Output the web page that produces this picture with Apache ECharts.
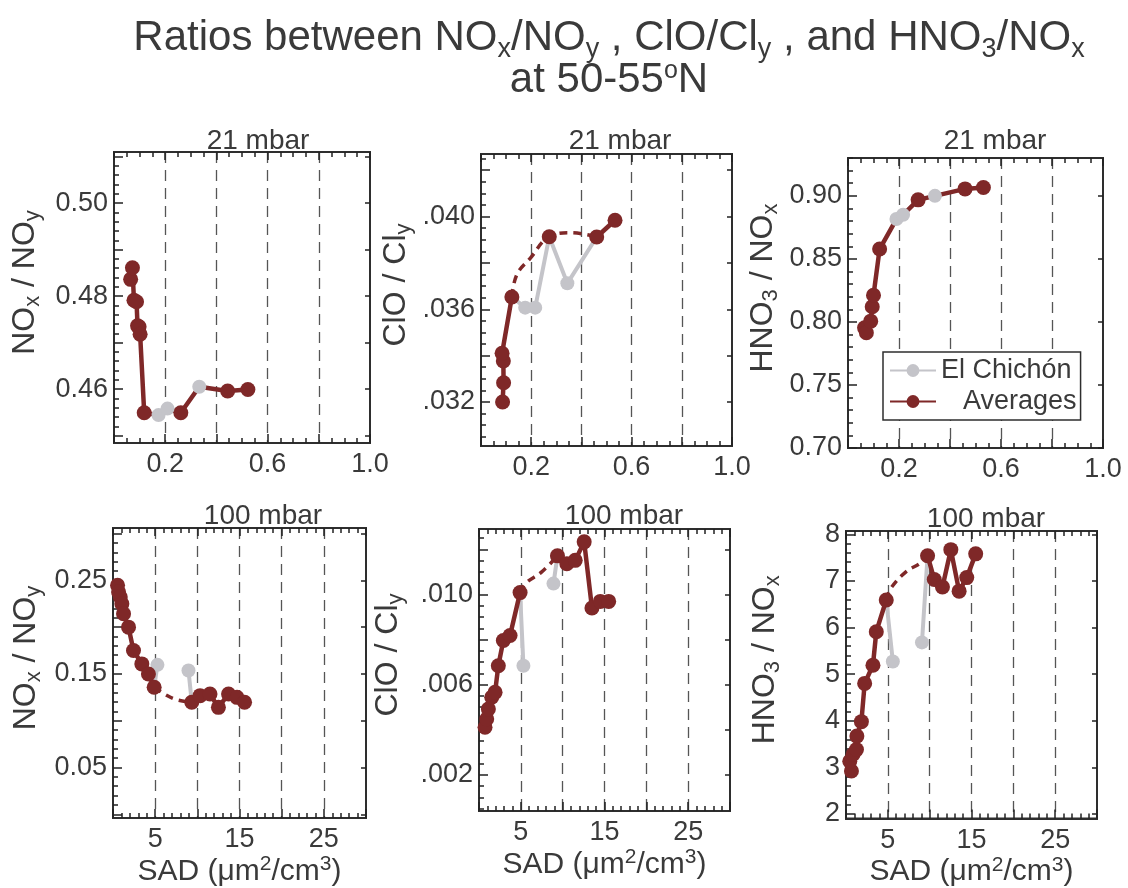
<!DOCTYPE html>
<html>
<head>
<meta charset="utf-8">
<title>Ratios between NOx/NOy, ClO/Cly and HNO3/NOx</title>
<script src="https://cdn.jsdelivr.net/npm/echarts@6/dist/echarts.min.js"></script>
<style>
  html, body { margin: 0; padding: 0; background: #fff; }
  #chart { width: 1128px; height: 888px; }
</style>
</head>
<body>
<div id="chart"></div>
<script>
// values (SAD on x, ratio on y)
// 21 mbar - NOx/NOy
const noxy21AvgX = [0.065, 0.072, 0.078, 0.088, 0.092, 0.098, 0.102, 0.118, 0.261, 0.444, 0.523];
const noxy21AvgY = [0.4836, 0.4861, 0.4791, 0.4788, 0.4736, 0.4734, 0.4718, 0.4549, 0.4549, 0.4596, 0.4599];
const noxy21ChiX = [0.174, 0.209, null, 0.333];
const noxy21ChiY = [0.4544, 0.4558, null, 0.4605];

// 21 mbar - ClO/Cly
const clo21AvgX = [0.086, 0.090, 0.089, 0.084, 0.123, 0.272, 0.461, 0.534];
const clo21AvgY = [0.0320, 0.03283, 0.03377, 0.0341, 0.03653, 0.03913, 0.03912, 0.03984];
const clo21GapX = [0.123, 0.143, 0.196, 0.272, 0.36, 0.461];
const clo21GapY = [0.03653, 0.0375, 0.0382, 0.03913, 0.0393, 0.03912];
const clo21ChiX = [0.123, 0.176, 0.216, 0.272, 0.344, 0.461];
const clo21ChiY = [0.03653, 0.03607, 0.03607, 0.03913, 0.03712, 0.03912];

// 21 mbar - HNO3/NOx
const hno21AvgX = [0.065, 0.072, 0.089, 0.095, 0.100, 0.124, 0.275, 0.459, 0.531];
const hno21AvgY = [0.7953, 0.7914, 0.8006, 0.8120, 0.8212, 0.8578, 0.8968, 0.9055, 0.9066];
const hno21ChiX = [0.190, 0.216, null, 0.341];
const hno21ChiY = [0.8816, 0.8850, null, 0.900];

// 100 mbar - NOx/NOy
const noxy100AvgX = [0.54, 0.66, 0.86, 1.05, 1.25, 1.84, 2.43, 3.42, 4.2, 4.88, 9.34, 10.33, 11.5, 12.5, 13.7, 14.7, 15.6];
const noxy100AvgY = [0.2447, 0.2376, 0.2322, 0.225, 0.2143, 0.200, 0.175, 0.1607, 0.150, 0.1357, 0.1197, 0.1268, 0.1286, 0.1143, 0.1286, 0.125, 0.1197];
const noxy100GapX = [4.88, 6.2, 7.5, 9.34];
const noxy100GapY = [0.1357, 0.128, 0.1225, 0.1197];
const noxy100ChiX = [4.88, 5.27, null, 8.95, 9.34];
const noxy100ChiY = [0.1357, 0.1597, null, 0.1536, 0.1197];

// 100 mbar - ClO/Cly
const clo100AvgX = [0.72, 0.92, 1.12, 1.52, 1.92, 2.31, 2.91, 3.71, 4.91, 9.38, 10.5, 11.5, 12.57, 13.5, 14.5, 15.5];
const clo100AvgY = [0.00411, 0.00448, 0.00492, 0.00544, 0.00566, 0.00684, 0.00796, 0.00818, 0.01008, 0.01171, 0.01136, 0.01151, 0.01233, 0.0094, 0.00969, 0.00969];
const clo100GapX = [4.91, 5.6, 7.5, 9.38];
const clo100GapY = [0.01008, 0.0105, 0.0110, 0.01171];
const clo100ChiX = [4.91, 5.31, null, 8.9, 9.38];
const clo100ChiY = [0.01008, 0.00684, null, 0.01048, 0.01171];

// 100 mbar - HNO3/NOx
const hno100AvgX = [0.65, 0.45, 0.85, 1.25, 1.3, 1.84, 2.23, 3.22, 3.62, 4.81, 9.75, 10.55, 11.53, 12.53, 13.52, 14.43, 15.5];
const hno100AvgY = [2.92, 3.13, 3.28, 3.38, 3.67, 3.98, 4.80, 5.19, 5.91, 6.59, 7.54, 7.03, 6.87, 7.67, 6.78, 7.07, 7.58];
const hno100GapX = [4.81, 5.4, 7.2, 8.9, 9.75];
const hno100GapY = [6.59, 6.85, 7.2, 7.38, 7.54];
const hno100ChiX = [4.81, 5.6, null, 9.08, 9.75];
const hno100ChiY = [6.59, 5.27, null, 5.68, 7.54];

// tick labels
const xLabels21 = [0.2, 0.6, 1.0];
const xLabels100 = [5, 15, 25];
const yLabelsNoxy21 = [0.46, 0.48, 0.50];
const yLabelsClo21 = [0.032, 0.036, 0.040];
const yLabelsHno21 = [0.70, 0.75, 0.80, 0.85, 0.90];
const yLabelsNoxy100 = [0.05, 0.15, 0.25];
const yLabelsClo100 = [0.002, 0.006, 0.010];
const yLabelsHno100 = [2, 3, 4, 5, 6, 7, 8];

const RED = '#7f2828';
const GRAY = '#c4c4c9';
const INK = '#3a3a3a';
const EDGE = '#2e2e2e';
const FONT = 'Liberation Sans';

function steps(a, b, d) {
  let out = [];
  for (let i = 0; a + i * d <= b + d * 1e-6; i++) out.push(+(a + i * d).toFixed(6));
  return out;
}
function pairs(xs, ys) {
  return xs.map((x, i) => (x === null ? '-' : [x, ys[i]]));
}

// dashed grid lines follow the major x ticks
const top21 = { xMin: 0, xMax: 1.0, xMajor: steps(0, 1, 0.2), xMinor: steps(0, 1, 0.05),
  xLabels: xLabels21, xFmt: v => v.toFixed(1), xName: '' };
const bot100 = { xMin: 0, xMax: 30, xMajor: steps(0, 30, 5), xMinor: steps(0, 30, 1),
  xLabels: xLabels100, xFmt: v => String(v), xName: 'SAD (μm{p|2}/cm{p|3})' };
const dotFmt = v => '.' + v.toFixed(3).split('.')[1];

const panels = [
  Object.assign({ grid: [114, 152, 256, 291], title: '21 mbar', tx: 253, ty: 122,
    yMin: 0.4484, yMax: 0.511, yMajor: steps(0.45, 0.51, 0.01), yMinor: steps(0.45, 0.51, 0.002),
    yLabels: yLabelsNoxy21, yFmt: v => v.toFixed(2), yName: 'NO{s|x} / NO{s|y}', nameGap: 70,
    avgX: noxy21AvgX, avgY: noxy21AvgY, chiX: noxy21ChiX, chiY: noxy21ChiY, through: true }, top21),
  Object.assign({ grid: [481, 154, 251, 292], title: '21 mbar', tx: 615, ty: 122,
    yMin: 0.0301, yMax: 0.0427, yMajor: steps(0.032, 0.042, 0.002), yMinor: steps(0.0305, 0.0425, 0.0005),
    yLabels: yLabelsClo21, yFmt: dotFmt, yName: 'ClO / Cl{s|y}', nameGap: 66,
    avgX: clo21AvgX, avgY: clo21AvgY, gapX: clo21GapX, gapY: clo21GapY, solid: [[0, 4], [6, 7]],
    chiX: clo21ChiX, chiY: clo21ChiY }, top21),
  Object.assign({ grid: [848, 158, 255, 290], title: '21 mbar', tx: 990, ty: 122,
    yMin: 0.70, yMax: 0.93, yMajor: steps(0.70, 0.90, 0.05), yMinor: steps(0.70, 0.93, 0.01),
    yLabels: yLabelsHno21, yFmt: v => v.toFixed(2), yName: 'HNO{s|3} / NO{s|x}', nameGap: 66,
    avgX: hno21AvgX, avgY: hno21AvgY, chiX: hno21ChiX, chiY: hno21ChiY, through: true }, top21),
  Object.assign({ grid: [113, 528, 253, 290], title: '100 mbar', tx: 258, ty: 497,
    yMin: -0.004, yMax: 0.306, yMajor: steps(0, 0.30, 0.05), yMinor: steps(0, 0.30, 0.01),
    yLabels: yLabelsNoxy100, yFmt: v => v.toFixed(2), yName: 'NO{s|x} / NO{s|y}', nameGap: 68,
    avgX: noxy100AvgX, avgY: noxy100AvgY, gapX: noxy100GapX, gapY: noxy100GapY, solid: [[0, 9], [10, 16]],
    chiX: noxy100ChiX, chiY: noxy100ChiY }, bot100),
  Object.assign({ grid: [479, 529, 251, 282], title: '100 mbar', tx: 619, ty: 497,
    yMin: 0.0004, yMax: 0.0129, yMajor: steps(0.002, 0.012, 0.002), yMinor: steps(0.0005, 0.0125, 0.0005),
    yLabels: yLabelsClo100, yFmt: dotFmt, yName: 'ClO / Cl{s|y}', nameGap: 72,
    avgX: clo100AvgX, avgY: clo100AvgY, gapX: clo100GapX, gapY: clo100GapY, solid: [[0, 8], [9, 15]],
    chiX: clo100ChiX, chiY: clo100ChiY }, bot100),
  Object.assign({ grid: [846, 531, 251, 291], title: '100 mbar', tx: 981, ty: 500,
    yMin: 1.9, yMax: 8.07, yMajor: steps(2, 8, 1), yMinor: steps(2, 8, 0.2),
    yLabels: yLabelsHno100, yFmt: v => String(v), yName: 'HNO{s|3} / NO{s|x}', nameGap: 62,
    avgX: hno100AvgX, avgY: hno100AvgY, gapX: hno100GapX, gapY: hno100GapY, solid: [[0, 9], [10, 16]],
    chiX: hno100ChiX, chiY: hno100ChiY }, bot100)
];

const tickLine = { color: '#222', width: 1.5 };
const edgeLine = { show: true, onZero: false, lineStyle: { color: EDGE, width: 2 } };
const grids = [], xAxes = [], yAxes = [], series = [];
const titles = [{
  text: 'Ratios between NO{s|x}/NO{s|y} , ClO/Cl{s|y} , and HNO{s|3}/NO{s|x}\nat 50-55{o|o}N',
  left: 604, top: 12, textAlign: 'center',
  textStyle: {
    fontFamily: FONT, fontWeight: 'normal', fontSize: 42, color: INK, lineHeight: 42,
    rich: {
      s: { fontFamily: FONT, fontSize: 27, color: INK, padding: [24, 0, 0, 0] },
      o: { fontFamily: FONT, fontSize: 25, color: INK, padding: [0, 0, 18, 0] }
    }
  }
}];

panels.forEach((p, i) => {
  grids.push({ left: p.grid[0], top: p.grid[1], width: p.grid[2], height: p.grid[3],
    show: true, borderColor: EDGE, borderWidth: 2 });
  titles.push({ text: p.title, left: p.tx, top: p.ty, textAlign: 'center',
    textStyle: { fontFamily: FONT, fontWeight: 'normal', fontSize: 28, color: INK } });

  const xBase = { gridIndex: i, type: 'value', min: p.xMin, max: p.xMax,
    axisLine: edgeLine, splitLine: { show: false }, axisLabel: { show: false } };
  xAxes.push(Object.assign({}, xBase, {
    position: 'bottom',
    axisTick: { show: true, inside: true, length: 9, customValues: p.xMajor, lineStyle: tickLine },
    axisLabel: { show: true, customValues: p.xLabels, formatter: p.xFmt, fontFamily: FONT,
      fontSize: 27, color: INK, margin: 8 },
    splitLine: { show: true, showMinLine: false, showMaxLine: false,
      lineStyle: { type: [11, 7], color: '#555', width: 1.3 } },
    name: p.xName, nameLocation: 'middle', nameGap: 30,
    nameTextStyle: { fontFamily: FONT, fontSize: 30, color: INK,
      rich: { p: { fontFamily: FONT, fontSize: 21, color: INK, padding: [0, 0, 14, 0] } } }
  }));
  xAxes.push(Object.assign({}, xBase, { position: 'bottom',
    axisTick: { show: true, inside: true, length: 5, customValues: p.xMinor, lineStyle: tickLine } }));
  xAxes.push(Object.assign({}, xBase, { position: 'top',
    axisTick: { show: true, inside: true, length: 8, customValues: p.xMajor, lineStyle: tickLine } }));
  xAxes.push(Object.assign({}, xBase, { position: 'top',
    axisTick: { show: true, inside: true, length: 5, customValues: p.xMinor, lineStyle: tickLine } }));

  const yBase = { gridIndex: i, type: 'value', min: p.yMin, max: p.yMax,
    axisLine: edgeLine, splitLine: { show: false }, axisLabel: { show: false } };
  yAxes.push(Object.assign({}, yBase, {
    position: 'left',
    axisTick: { show: true, inside: true, length: 9, customValues: p.yMajor, lineStyle: tickLine },
    axisLabel: { show: true, customValues: p.yLabels, formatter: p.yFmt, fontFamily: FONT,
      fontSize: 27, color: INK, margin: 6 },
    name: p.yName, nameLocation: 'middle', nameGap: p.nameGap, nameRotate: 90,
    nameTextStyle: { fontFamily: FONT, fontSize: 32, color: INK, padding: [0, 0, 0, 30],
      rich: { s: { fontFamily: FONT, fontSize: 22, color: INK, padding: [16, 0, 0, 0] } } }
  }));
  yAxes.push(Object.assign({}, yBase, { position: 'left',
    axisTick: { show: true, inside: true, length: 5, customValues: p.yMinor, lineStyle: tickLine } }));
  yAxes.push(Object.assign({}, yBase, { position: 'right',
    axisTick: { show: true, inside: true, length: 5, customValues: p.yMajor, lineStyle: tickLine } }));

  const ax = { xAxisIndex: i * 4, yAxisIndex: i * 3 };
  const redLine = { color: RED, width: 4.5 };

  if (p.through) {
    // averages line runs through the El Chichón points as well
    const path = pairs(p.avgX, p.avgY).concat(pairs(p.chiX, p.chiY).filter(d => d !== '-'))
      .sort((a, b) => a[0] - b[0]);
    series.push(Object.assign({ name: 'Averages', type: 'line', data: path, showSymbol: false,
      symbol: 'circle', symbolSize: 14, lineStyle: redLine, itemStyle: { color: RED }, z: 2 }, ax));
  } else {
    p.solid.forEach(r => {
      series.push(Object.assign({ name: 'Averages', type: 'line',
        data: pairs(p.avgX.slice(r[0], r[1] + 1), p.avgY.slice(r[0], r[1] + 1)),
        showSymbol: false, symbol: 'circle', symbolSize: 14, lineStyle: redLine,
        itemStyle: { color: RED }, z: 2 }, ax));
    });
    series.push(Object.assign({ name: 'Averages (gap)', type: 'line', data: pairs(p.gapX, p.gapY),
      smooth: 0.4, showSymbol: false, lineStyle: { color: RED, width: 3.5, type: [8, 6] }, z: 2 }, ax));
  }
  series.push(Object.assign({ name: 'Averages points', type: 'scatter', data: pairs(p.avgX, p.avgY),
    symbolSize: 15, itemStyle: { color: RED, opacity: 1 }, z: 2 }, ax));
  series.push(Object.assign({ name: 'El Chichón', type: 'line', data: pairs(p.chiX, p.chiY),
    symbol: 'circle', symbolSize: 14, showSymbol: true, lineStyle: { color: GRAY, width: 4 },
    itemStyle: { color: GRAY, opacity: 1 }, z: p.through ? 3 : 1 }, ax));
});

const chart = echarts.init(document.getElementById('chart'));
chart.setOption({
  animation: false,
  backgroundColor: '#fff',
  title: titles,
  legend: {
    data: ['El Chichón', 'Averages'], orient: 'vertical', left: 883, top: 352,
    padding: [5, 4, 5, 6], itemGap: 4, itemWidth: 46, itemHeight: 16,
    backgroundColor: '#fff', borderColor: EDGE, borderWidth: 1.5, borderRadius: 0,
    selectedMode: false,
    textStyle: { fontFamily: FONT, fontSize: 27, color: INK,
      rich: { a: { fontFamily: FONT, fontSize: 27, color: INK, padding: [0, 0, 0, 22] } } },
    formatter: n => (n === 'Averages' ? '{a|' + n + '}' : n)
  },
  grid: grids,
  xAxis: xAxes,
  yAxis: yAxes,
  series: series
});
</script>
</body>
</html>
